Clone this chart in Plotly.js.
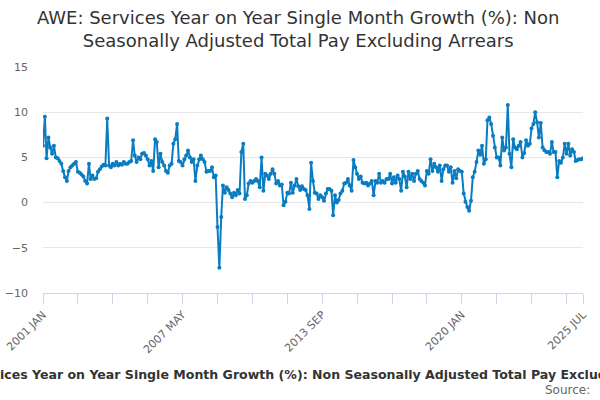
<!DOCTYPE html>
<html>
<head>
<meta charset="utf-8">
<script src="https://cdn.plot.ly/plotly-3.0.1.min.js"></script>
<style>
  html, body { margin: 0; padding: 0; overflow: hidden; background: #ffffff; }
  #chart { width: 600px; height: 400px; }
</style>
</head>
<body>
<div id="chart"></div>
<script>
// Monthly values (%), January 2001 to July 2025
const v2001 = [6.3, 9.5, 4.9, 7.2, 6.1, 5.4, 6.3, 5.0, 4.9, 4.6, 4.3, 3.5];
const v2002 = [2.8, 2.4, 3.5, 3.9, 4.1, 4.3, 4.5, 3.4, 3.3, 3.1, 2.9, 2.4];
const v2003 = [2.1, 4.3, 2.6, 3.0, 2.6, 2.7, 3.4, 3.7, 4.0, 4.2, 4.1, 9.3];
const v2004 = [4.1, 3.9, 4.3, 4.1, 4.5, 4.1, 4.3, 4.2, 4.5, 4.3, 4.3, 4.5];
const v2005 = [4.6, 6.9, 5.2, 4.5, 5.0, 4.8, 5.4, 5.5, 5.2, 4.8, 4.1, 4.6];
const v2006 = [3.5, 7.0, 6.7, 3.9, 5.4, 4.5, 4.1, 3.5, 3.3, 4.1, 4.3, 6.5];
const v2007 = [7.0, 8.7, 4.6, 4.5, 4.1, 4.8, 5.2, 5.75, 5.0, 4.5, 4.8, 2.4];
const v2008 = [4.1, 4.8, 5.2, 4.8, 4.5, 3.4, 3.5, 3.5, 3.9, 2.8, 3.0, -2.7];
const v2009 = [-7.2, -1.6, 1.9, 1.1, 1.7, 1.4, 1.0, 0.6, 1.1, 0.8, 1.4, 1.0];
const v2010 = [5.6, 6.5, 0.4, 0.8, 2.1, 2.4, 2.2, 2.4, 2.6, 2.4, 1.7, 5.0];
const v2011 = [1.3, 3.2, 3.0, 2.6, 3.2, 3.7, 3.2, 2.1, 2.4, 1.9, 2.0, -0.3];
const v2012 = [0.1, 1.1, 1.0, 2.2, 1.1, 1.9, 2.6, 1.8, 1.4, 1.8, 1.5, 1.4];
const v2013 = [0.8, -0.7, 4.4, 2.4, 1.1, 1.0, 0.4, 0.8, 0.6, 0.2, 1.0, 1.5];
const v2014 = [1.5, 1.3, -1.4, 0.8, 0.0, 0.3, 1.0, 1.3, 2.1, 2.2, 2.6, 1.9];
const v2015 = [1.3, 4.7, 3.9, 3.2, 2.6, 2.9, 2.2, 2.1, 2.2, 1.9, 2.1, 2.4];
const v2016 = [0.8, 2.4, 2.2, 3.2, 2.2, 2.4, 2.2, 2.6, 2.6, 3.2, 2.1, 2.8];
const v2017 = [2.2, 3.0, 2.6, 1.3, 3.4, 2.9, 1.7, 3.4, 2.6, 3.2, 2.4, 3.2];
const v2018 = [3.5, 2.6, 2.4, 2.2, 1.9, 3.5, 3.2, 4.8, 3.5, 4.3, 3.9, 3.4];
const v2019 = [4.1, 2.4, 3.7, 4.1, 4.1, 3.4, 3.9, 2.2, 3.5, 2.7, 3.7, 3.5];
const v2020 = [3.4, 1.0, 0.1, -0.5, -0.9, 0.2, 2.8, 3.4, 4.5, 5.75, 5.3, 6.3];
const v2021 = [4.3, 4.8, 9.1, 9.4, 8.7, 7.4, 6.1, 5.0, 5.0, 4.1, 7.2, 5.75];
const v2022 = [6.1, 10.8, 5.4, 3.9, 7.0, 6.1, 5.9, 6.3, 6.7, 5.0, 5.5, 6.9];
const v2023 = [6.3, 6.5, 8.2, 8.7, 10.0, 8.9, 7.2, 8.8, 6.1, 5.8, 5.6, 5.6];
const v2024 = [5.4, 6.7, 5.6, 5.6, 2.8, 4.6, 4.4, 5.0, 6.5, 5.4, 6.5, 5.2];
const v2025 = [5.9, 5.6, 4.6, 4.7, 4.8, 4.8, 4.9];

const years = [2001,2002,2003,2004,2005,2006,2007,2008,2009,2010,2011,2012,2013,
               2014,2015,2016,2017,2018,2019,2020,2021,2022,2023,2024,2025];
const yearValues = [v2001,v2002,v2003,v2004,v2005,v2006,v2007,v2008,v2009,v2010,
                    v2011,v2012,v2013,v2014,v2015,v2016,v2017,v2018,v2019,v2020,
                    v2021,v2022,v2023,v2024,v2025];

// Tick labels
const tickLabels = ['2001 JAN', '2007 MAY', '2013 SEP', '2020 JAN', '2025 JUL'];
const tickLabelDates = ['2001-01-01', '2007-05-01', '2013-09-01', '2020-01-01', '2025-07-01'];

const titleText = 'AWE: Services Year on Year Single Month Growth (%): Non<br>Seasonally Adjusted Total Pay Excluding Arrears';
const xTitleText = 'Services Year on Year Single Month Growth (%): Non Seasonally Adjusted Total Pay Excluding Arrears';
const sourceText = 'Source:';

// Build series
const dates = [];
const values = [];
years.forEach((y, k) => {
  yearValues[k].forEach((v, m) => {
    dates.push(y + '-' + String(m + 1).padStart(2, '0') + '-01');
    values.push(v);
  });
});

// Ticks every 19 months, labelled ones from tickLabels
const tickvals = [];
const ticktext = [];
for (let i = 0; i < dates.length; i += 19) {
  tickvals.push(dates[i]);
  const idx = tickLabelDates.indexOf(dates[i]);
  ticktext.push(idx >= 0 ? tickLabels[idx] : '');
}
tickvals.push(dates[dates.length - 1]);
ticktext.push(tickLabels[tickLabels.length - 1]);

const font = 'DejaVu Sans, Verdana, sans-serif';
const lineColor = '#0a7cc1';

const trace = {
  x: dates,
  y: values,
  type: 'scatter',
  mode: 'lines+markers',
  line: { color: lineColor, width: 2 },
  marker: { color: lineColor, size: 4 },
  hoverinfo: 'x+y'
};

const plotL = 43, plotR = 583, plotT = 67, plotB = 293;
const plotW = plotR - plotL, plotH = plotB - plotT;

const layout = {
  width: 600,
  height: 400,
  margin: { l: plotL, r: 600 - plotR, t: plotT, b: 400 - plotB },
  paper_bgcolor: '#ffffff',
  plot_bgcolor: '#ffffff',
  showlegend: false,
  font: { family: font, color: '#666666', size: 11 },
  title: {
    text: titleText,
    font: { family: font, size: 18, color: '#333333' },
    x: 0.497,
    xanchor: 'center',
    xref: 'container',
    yref: 'container',
    y: 0.94,
    yanchor: 'top'
  },
  xaxis: {
    type: 'date',
    range: [dates[0], dates[dates.length - 1]],
    tickmode: 'array',
    tickvals: tickvals,
    ticktext: ticktext,
    tickangle: -45,
    ticks: 'outside',
    ticklen: 10,
    tickcolor: '#ccd6eb',
    tickwidth: 1,
    showline: true,
    linecolor: '#ccd6eb',
    linewidth: 1,
    showgrid: false,
    zeroline: false,
    tickfont: { family: font, size: 11, color: '#666666' }
  },
  yaxis: {
    range: [-10, 15],
    tickvals: [-10, -5, 0, 5, 10, 15],
    showgrid: true,
    gridcolor: '#e6e6e6',
    gridwidth: 1,
    zeroline: false,
    showline: false,
    ticks: '',
    ticklabelstandoff: 14,
    tickfont: { family: font, size: 11, color: '#666666' }
  },
  annotations: [
    {
      text: '<b>' + xTitleText + '</b>',
      xref: 'paper',
      yref: 'paper',
      x: (327 - plotL) / plotW,
      y: -(374 - plotB) / plotH,
      xanchor: 'center',
      yanchor: 'middle',
      showarrow: false,
      font: { family: font, size: 12.55, color: '#333333' }
    },
    {
      text: sourceText,
      xref: 'paper',
      yref: 'paper',
      x: (543 - plotL) / plotW,
      y: -(390 - plotB) / plotH,
      xanchor: 'left',
      yanchor: 'middle',
      showarrow: false,
      font: { family: font, size: 12, color: '#666666' }
    }
  ]
};

Plotly.newPlot('chart', [trace], layout, { displayModeBar: false, staticPlot: true });
</script>
</body>
</html>
